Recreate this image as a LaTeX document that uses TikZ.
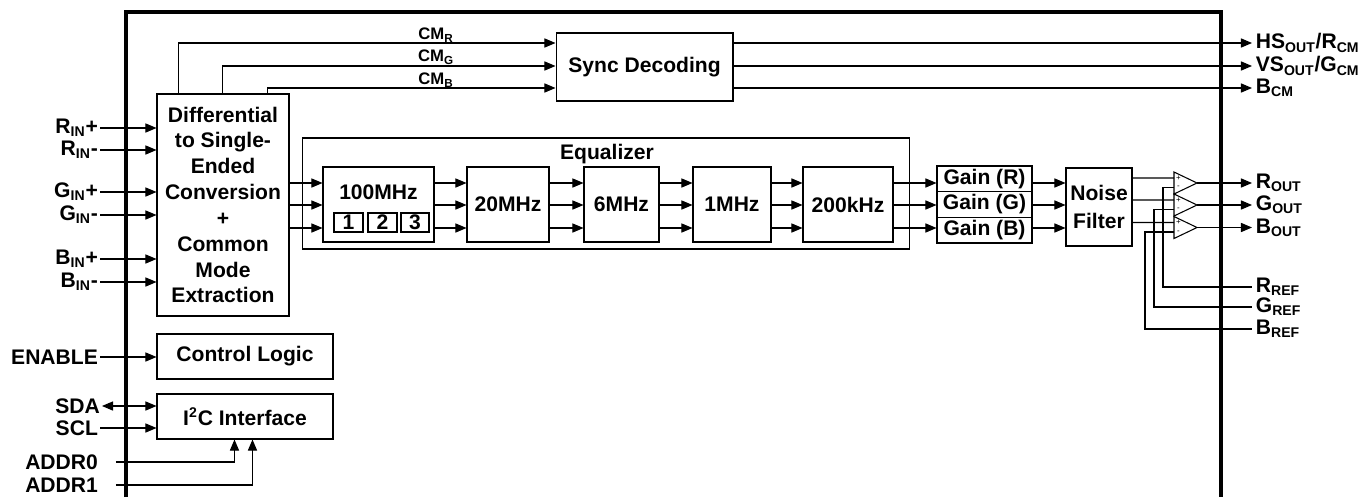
\documentclass[tikz,border=0pt]{standalone}
\usepackage{fontspec}
\setmainfont{Liberation Sans}
\usetikzlibrary{arrows.meta,positioning}

\tikzset{
  blk/.style={draw, line width=0.6pt, inner sep=0pt, align=center,
    font=\bfseries\fontsize{12}{14.7}\selectfont},
  txt/.style={inner sep=0pt, align=center, font=\bfseries\fontsize{12}{15.5}\selectfont},
  pinl/.style={inner sep=1pt, anchor=east, font=\bfseries\fontsize{12}{14}\selectfont},
  pinr/.style={inner sep=2pt, anchor=west, font=\bfseries\fontsize{12}{14}\selectfont},
  cml/.style={inner sep=0pt, font=\bfseries\fontsize{9.5}{11}\selectfont},
  sgn/.style={inner sep=0pt, font=\fontsize{4.5}{5}\selectfont},
  sig/.style={line width=0.6pt, -{Triangle[length=6.3pt,width=5.2pt]}},
  wire/.style={line width=0.6pt},
}

\begin{document}
\begin{tikzpicture}[x=0.02cm, y=-0.02cm]
  \useasboundingbox (0,0) rectangle (1361,497);

  % chip outline
  \draw[line width=2.3pt] (126,497) -- (126,12) -- (1221,12) -- (1221,497);

  % rows
  \coordinate (rowR) at (0,183);
  \coordinate (rowG) at (0,205);
  \coordinate (rowB) at (0,228);
  \coordinate (cmR) at (0,43);
  \coordinate (cmG) at (0,66);
  \coordinate (cmB) at (0,88);

  % blocks
  \node[blk, minimum width=2.64cm, minimum height=4.44cm] (diff) at (223,205)
    {Differential\\to Single-\\Ended\\Conversion\\+\\Common\\Mode\\Extraction};
  \node[blk, minimum width=3.52cm, minimum height=0.9cm] (ctrl) at (245,356.5) {Control Logic};
  \node[blk, minimum width=3.52cm, minimum height=0.9cm] (i2c) at (245,416.5) {I\textsuperscript{2}C Interface};
  \node[blk, minimum width=3.54cm, minimum height=1.36cm] (sync) at (644.5,67) {Sync Decoding};

  \node[blk, minimum width=12.16cm, minimum height=2.22cm] (eq) at (606,193.5) {};
  \node[txt] (eqlbl) at (607,154) {Equalizer};
  \node[blk, minimum width=2.22cm, minimum height=1.5cm] (f100) at (378.5,204.5) {};
  \node[txt] (t100) at (378.5,192) {100MHz};
  \node[blk, minimum width=0.58cm, minimum height=0.38cm] (k1) at (348.5,222.5) {1};
  \node[blk, minimum width=0.58cm, minimum height=0.38cm] (k2) at (382.5,222.5) {2};
  \node[blk, minimum width=0.56cm, minimum height=0.38cm] (k3) at (415,222.5) {3};
  \node[blk, minimum width=1.64cm, minimum height=1.5cm] (f20) at (508,204.5) {20MHz};
  \node[blk, minimum width=1.5cm, minimum height=1.5cm] (f6) at (621.5,204.5) {6MHz};
  \node[blk, minimum width=1.56cm, minimum height=1.5cm] (f1) at (732,204.5) {1MHz};
  \node[blk, minimum width=1.8cm, minimum height=1.5cm] (f200) at (848,204.5) {200kHz};

  \node[blk, minimum width=1.9cm, minimum height=0.513cm] (gainR) at (984.5,178.8) {Gain (R)};
  \node[blk, minimum width=1.9cm, minimum height=0.513cm] (gainG) at (984.5,204.5) {Gain (G)};
  \node[blk, minimum width=1.9cm, minimum height=0.513cm] (gainB) at (984.5,230.2) {Gain (B)};
  \node[blk, minimum width=1.32cm, minimum height=1.56cm, font=\bfseries\fontsize{12}{15.5}\selectfont]
    (noise) at (1099,207) {Noise\\Filter};

  % input pins
  \node[pinl] (rinp) at (100,128) {R\textsubscript{IN}+};
  \node[pinl] (rinm) at (100,150) {R\textsubscript{IN}-};
  \node[pinl] (ginp) at (100,192) {G\textsubscript{IN}+};
  \node[pinl] (ginm) at (100,215) {G\textsubscript{IN}-};
  \node[pinl] (binp) at (100,259) {B\textsubscript{IN}+};
  \node[pinl] (binm) at (100,282) {B\textsubscript{IN}-};
  \node[pinl] (enable) at (100,357) {ENABLE};
  \node[pinl] (sda) at (102,406) {SDA};
  \node[pinl] (scl) at (100,428) {SCL};
  \node[pinl] (addr0) at (100,462) {ADDR0};
  \node[pinl] (addr1) at (100,485) {ADDR1};

  \draw[sig] (rinp.east) -- (diff.west |- rinp);
  \draw[sig] (rinm.east) -- (diff.west |- rinm);
  \draw[sig] (ginp.east) -- (diff.west |- ginp);
  \draw[sig] (ginm.east) -- (diff.west |- ginm);
  \draw[sig] (binp.east) -- (diff.west |- binp);
  \draw[sig] (binm.east) -- (diff.west |- binm);
  \draw[sig] (enable.east) -- (ctrl.west |- enable);
  \draw[line width=0.6pt, {Triangle[length=6.3pt,width=5.2pt]}-{Triangle[length=6.3pt,width=5.2pt]}]
    (sda.east) -- (i2c.west |- sda);
  \draw[sig] (scl.east) -- (i2c.west |- scl);
  \draw[sig] ([xshift=0.32cm]addr0.east) -| ([xshift=1.56cm]i2c.south west);
  \draw[sig] ([xshift=0.32cm]addr1.east) -| ([xshift=1.92cm]i2c.south west);

  % common mode to sync
  \draw[sig] ([xshift=0.44cm]diff.north west) |- (sync.west |- cmR);
  \draw[sig] ([xshift=1.32cm]diff.north west) |- (sync.west |- cmG);
  \draw[sig] ([xshift=2.22cm]diff.north west) |- (sync.west |- cmB);
  \node[cml] (lcmR) at (436,35) {CM\textsubscript{R}};
  \node[cml] (lcmG) at (436,57) {CM\textsubscript{G}};
  \node[cml] (lcmB) at (436,80) {CM\textsubscript{B}};

  % sync outputs
  \node[pinr] (hsout) at (1252,43) {HS\textsubscript{OUT}/R\textsubscript{CM}};
  \node[pinr] (vsout) at (1252,66) {VS\textsubscript{OUT}/G\textsubscript{CM}};
  \node[pinr] (bcm) at (1252,88) {B\textsubscript{CM}};
  \draw[sig] (sync.east |- cmR) -- (hsout.west);
  \draw[sig] (sync.east |- cmG) -- (vsout.west);
  \draw[sig] (sync.east |- cmB) -- (bcm.west);

  % signal chain
  \draw[sig] (diff.east |- rowR) -- (f100.west |- rowR);
  \draw[sig] (diff.east |- rowG) -- (f100.west |- rowG);
  \draw[sig] (diff.east |- rowB) -- (f100.west |- rowB);
  \draw[sig] (f100.east |- rowR) -- (f20.west |- rowR);
  \draw[sig] (f100.east |- rowG) -- (f20.west |- rowG);
  \draw[sig] (f100.east |- rowB) -- (f20.west |- rowB);
  \draw[sig] (f20.east |- rowR) -- (f6.west |- rowR);
  \draw[sig] (f20.east |- rowG) -- (f6.west |- rowG);
  \draw[sig] (f20.east |- rowB) -- (f6.west |- rowB);
  \draw[sig] (f6.east |- rowR) -- (f1.west |- rowR);
  \draw[sig] (f6.east |- rowG) -- (f1.west |- rowG);
  \draw[sig] (f6.east |- rowB) -- (f1.west |- rowB);
  \draw[sig] (f1.east |- rowR) -- (f200.west |- rowR);
  \draw[sig] (f1.east |- rowG) -- (f200.west |- rowG);
  \draw[sig] (f1.east |- rowB) -- (f200.west |- rowB);
  \draw[sig] (f200.east |- rowR) -- (gainR.west |- rowR);
  \draw[sig] (f200.east |- rowG) -- (gainG.west |- rowG);
  \draw[sig] (f200.east |- rowB) -- (gainB.west |- rowB);
  \draw[sig] (gainR.east |- rowR) -- (noise.west |- rowR);
  \draw[sig] (gainG.east |- rowG) -- (noise.west |- rowG);
  \draw[sig] (gainB.east |- rowB) -- (noise.west |- rowB);

  % output amplifiers
  \coordinate (ampR) at (1174,183);
  \coordinate (ampG) at (1174,205);
  \coordinate (ampB) at (1174,227.5);
  \draw[wire] (ampR) ++(0,-11) -- ++(23,11) -- ++(-23,11) -- cycle;
  \draw[wire] (ampG) ++(0,-11) -- ++(23,11) -- ++(-23,11) -- cycle;
  \draw[wire] (ampB) ++(0,-11) -- ++(23,11) -- ++(-23,11) -- cycle;
  \node[sgn] at (1178.5,178) {+};
  \node[sgn] at (1178.5,187.5) {-};
  \node[sgn] at (1178.5,200) {+};
  \node[sgn] at (1178.5,209.5) {-};
  \node[sgn] at (1178.5,222.5) {+};
  \node[sgn] at (1178.5,232) {-};

  \draw[wire] (noise.east |- 0,178) -- ([yshift=0.1cm]ampR);
  \draw[wire] (noise.east |- 0,200) -- ([yshift=0.1cm]ampG);
  \draw[wire] (noise.east |- 0,222.5) -- ([yshift=0.1cm]ampB);

  \node[pinr] (rout) at (1252,183) {R\textsubscript{OUT}};
  \node[pinr] (gout) at (1252,205) {G\textsubscript{OUT}};
  \node[pinr] (bout) at (1252,227.5) {B\textsubscript{OUT}};
  \draw[sig] ([xshift=0.46cm]ampR) -- (rout.west);
  \draw[sig] ([xshift=0.46cm]ampG) -- (gout.west);
  \draw[sig] ([xshift=0.46cm]ampB) -- (bout.west);

  \node[pinr] (rref) at (1252,287) {R\textsubscript{REF}};
  \node[pinr] (gref) at (1252,307) {G\textsubscript{REF}};
  \node[pinr] (bref) at (1252,329) {B\textsubscript{REF}};
  \draw[wire] ([yshift=-0.09cm]ampR) -- ++(-11,0) |- (rref.west);
  \draw[wire] ([yshift=-0.09cm]ampG) -- ++(-20,0) |- (gref.west);
  \draw[wire] ([yshift=-0.09cm]ampB) -- ++(-29,0) |- (bref.west);
\end{tikzpicture}
\end{document}
